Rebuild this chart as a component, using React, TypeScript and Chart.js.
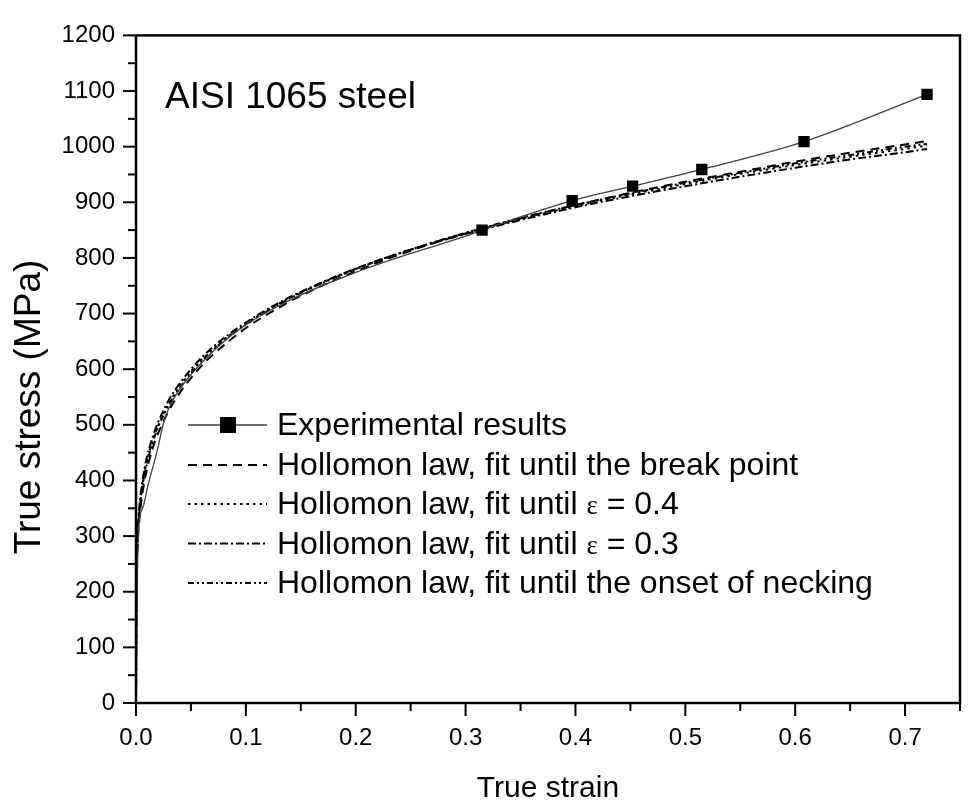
import React, { useEffect, useRef } from "react";
import { Chart, registerables } from "chart.js";

Chart.register(...registerables);

// ---------- data ----------
const EXP_STRAIN = [0, 0.002, 0.006, 0.011, 0.019, 0.026, 0.034, 0.045, 0.06, 0.08, 0.1, 0.13, 0.16, 0.2, 0.25, 0.3, 0.315, 0.397, 0.452, 0.515, 0.608, 0.72];
const EXP_STRESS = [0, 300, 350, 392, 451, 510, 546, 578, 612, 650, 680, 714, 742, 774, 808, 839, 850, 903, 929, 959, 1009, 1094];

const MARKER_STRAIN = [0.315, 0.397, 0.452, 0.515, 0.608, 0.72];
const MARKER_STRESS = [850, 903, 929, 959, 1009, 1094];

const HOLL_STRAIN = [0, 0.0005, 0.001, 0.002, 0.004, 0.007, 0.01, 0.015, 0.02, 0.03, 0.04, 0.05, 0.065, 0.08, 0.1, 0.125, 0.15, 0.2, 0.25, 0.3, 0.35, 0.4, 0.45, 0.5, 0.55, 0.6, 0.65, 0.7, 0.72];
const HOLL_BREAK = [0, 227, 262, 302, 348, 391, 420, 457, 484, 526, 558, 584, 617, 643, 674, 705, 732, 776, 813, 844, 871, 895, 917, 937, 955, 973, 989, 1004, 1010];
const HOLL_E04 = [0, 243, 278, 318, 364, 406, 435, 471, 498, 539, 570, 596, 627, 653, 682, 712, 738, 780, 815, 845, 870, 893, 914, 933, 951, 967, 982, 996, 1002];
const HOLL_E03 = [0, 250, 285, 325, 371, 413, 442, 477, 504, 545, 575, 600, 631, 656, 684, 714, 739, 781, 815, 843, 868, 891, 911, 929, 946, 962, 977, 990, 996];
const HOLL_NECK = [0, 238, 273, 313, 360, 402, 431, 467, 495, 536, 567, 593, 625, 651, 680, 711, 737, 780, 815, 845, 872, 895, 916, 935, 953, 970, 985, 1000, 1005];

const TITLE = "AISI 1065 steel";
const X_TITLE = "True strain";
const Y_TITLE = "True stress (MPa)";
const LEGEND_LABELS = [
  "Experimental results",
  "Hollomon law, fit until the break point",
  "Hollomon law, fit until \u03b5 = 0.4",
  "Hollomon law, fit until \u03b5 = 0.3",
  "Hollomon law, fit until the onset of necking",
];

const X_MIN = 0;
const X_MAX = 0.75;
const Y_MIN = 0;
const Y_MAX = 1200;

// ---------- styles ----------
const SANS = "'Liberation Sans', Arial, Helvetica, sans-serif";
const SERIF = "'Liberation Serif', 'Times New Roman', serif";
const EXP_COLOR = "#4d3b36";
const DASHES: number[][] = [[9, 6], [2.5, 4], [8, 3, 2, 3], [6, 3, 2, 3, 2, 3]];

const pts = (xs: number[], ys: number[]) => xs.map((x, i) => ({ x, y: ys[i] }));

const decorPlugin = {
  id: "decor",
  afterDraw(chart: any) {
    const ctx: CanvasRenderingContext2D = chart.ctx;
    const { left, right, top, bottom } = chart.chartArea;
    const xs = chart.scales.x;
    const ys = chart.scales.y;
    ctx.save();
    ctx.strokeStyle = "#000";
    ctx.fillStyle = "#000";
    // frame
    ctx.lineWidth = 2.5;
    ctx.setLineDash([]);
    ctx.strokeRect(left, top, right - left, bottom - top);
    // ticks
    ctx.lineWidth = 2;
    for (let i = 0; i <= 24; i++) {
      const v = i * 50;
      const p = ys.getPixelForValue(v);
      const len = i % 2 === 0 ? 13 : 8;
      ctx.beginPath();
      ctx.moveTo(left - len, p);
      ctx.lineTo(left, p);
      ctx.stroke();
    }
    for (let i = 0; i <= 15; i++) {
      const v = i * 0.05;
      const p = xs.getPixelForValue(v);
      const len = i % 2 === 0 ? 13 : 8;
      ctx.beginPath();
      ctx.moveTo(p, bottom);
      ctx.lineTo(p, bottom + len);
      ctx.stroke();
    }
    // title inside plot
    ctx.font = `37px ${SANS}`;
    ctx.textAlign = "left";
    ctx.textBaseline = "alphabetic";
    ctx.fillText(TITLE, 165, 108);
    // x title
    ctx.font = `30px ${SANS}`;
    ctx.textAlign = "center";
    ctx.fillText(X_TITLE, (left + right) / 2, 797);
    // y title
    ctx.save();
    ctx.translate(40, 407);
    ctx.rotate(-Math.PI / 2);
    ctx.font = `37px ${SANS}`;
    ctx.textAlign = "center";
    ctx.textBaseline = "alphabetic";
    ctx.fillText(Y_TITLE, 0, 0);
    ctx.restore();
    // legend
    const baselines = [435, 475, 514, 553.5, 593];
    const x0 = 188;
    const x1 = 267;
    const tx = 277;
    LEGEND_LABELS.forEach((label, i) => {
      const by = baselines[i];
      const ly = by - 10;
      ctx.beginPath();
      if (i === 0) {
        ctx.strokeStyle = EXP_COLOR;
        ctx.lineWidth = 1.3;
        ctx.setLineDash([]);
      } else {
        ctx.strokeStyle = "#000";
        ctx.lineWidth = 2;
        ctx.setLineDash(DASHES[i - 1]);
      }
      ctx.moveTo(x0, ly);
      ctx.lineTo(x1, ly);
      ctx.stroke();
      ctx.setLineDash([]);
      if (i === 0) {
        ctx.fillStyle = "#000";
        ctx.fillRect(228 - 8, ly - 8, 16, 16);
      }
      ctx.fillStyle = "#000";
      ctx.textAlign = "left";
      ctx.textBaseline = "alphabetic";
      const epsIdx = label.indexOf("\u03b5");
      if (epsIdx >= 0) {
        const before = label.slice(0, epsIdx);
        const after = label.slice(epsIdx + 1);
        ctx.font = `32px ${SANS}`;
        ctx.fillText(before, tx, by);
        let cx = tx + ctx.measureText(before).width;
        ctx.font = `27px ${SERIF}`;
        ctx.fillText("\u03b5", cx, by);
        cx += ctx.measureText("\u03b5").width;
        ctx.font = `32px ${SANS}`;
        ctx.fillText(after, cx, by);
      } else {
        ctx.font = `32px ${SANS}`;
        ctx.fillText(label, tx, by);
      }
    });
    ctx.restore();
  },
};

export default function App() {
  const ref = useRef<HTMLCanvasElement | null>(null);

  useEffect(() => {
    if (!ref.current) return;
    const hollSets = [HOLL_BREAK, HOLL_E04, HOLL_E03, HOLL_NECK].map((ys, i) => ({
      type: "line" as const,
      data: pts(HOLL_STRAIN, ys),
      borderColor: "#000",
      borderWidth: 2,
      borderDash: DASHES[i],
      pointRadius: 0,
      fill: false,
      cubicInterpolationMode: "monotone" as const,
    }));
    const chart = new Chart(ref.current, {
      type: "line",
      data: {
        datasets: [
          {
            type: "scatter" as any,
            data: pts(MARKER_STRAIN, MARKER_STRESS),
            showLine: false,
            pointStyle: "rect",
            pointRadius: 8,
            pointBackgroundColor: "#000",
            pointBorderColor: "#000",
            pointBorderWidth: 0,
          } as any,
          {
            type: "line" as const,
            data: pts(EXP_STRAIN, EXP_STRESS),
            borderColor: EXP_COLOR,
            borderWidth: 1.3,
            pointRadius: 0,
            fill: false,
            cubicInterpolationMode: "monotone" as const,
          },
          ...hollSets,
        ],
      },
      options: {
        responsive: false,
        animation: false,
        layout: { padding: { top: 30, right: 7, left: 0, bottom: 0 } },
        plugins: {
          legend: { display: false },
          tooltip: { enabled: false },
          title: { display: false },
        },
        scales: {
          x: {
            type: "linear",
            min: X_MIN,
            max: X_MAX,
            grid: { display: false, drawTicks: false, tickLength: 0 },
            border: { display: false },
            ticks: {
              stepSize: 0.1,
              includeBounds: false,
              autoSkip: false,
              maxRotation: 0,
              padding: 21,
              color: "#000",
              font: { family: SANS, size: 24 },
              callback: (v: any) => Number(v).toFixed(1),
            },
            afterFit: (s: any) => {
              s.height = 108;
            },
          },
          y: {
            type: "linear",
            min: Y_MIN,
            max: Y_MAX,
            grid: { display: false, drawTicks: false, tickLength: 0 },
            border: { display: false },
            ticks: {
              stepSize: 100,
              autoSkip: false,
              padding: 21,
              color: "#000",
              font: { family: SANS, size: 24 },
              callback: (v: any) => String(Math.round(Number(v))),
            },
            afterFit: (s: any) => {
              s.width = 136;
            },
          },
        },
      },
      plugins: [decorPlugin],
    });
    return () => chart.destroy();
  }, []);

  return (
    <div style={{ position: "fixed", left: 0, top: 0, width: 968, height: 811, background: "#fff" }}>
      <canvas ref={ref} width={968} height={811} style={{ width: 968, height: 811, display: "block" }} />
    </div>
  );
}
